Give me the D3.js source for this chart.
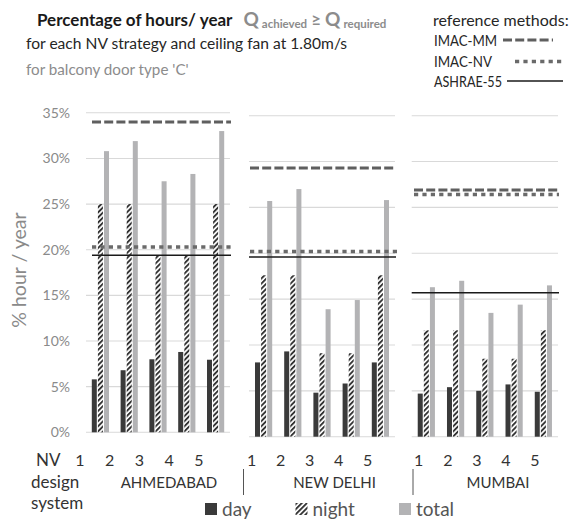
<!DOCTYPE html>
<html>
<head>
<meta charset="utf-8">
<script src="https://cdn.jsdelivr.net/npm/d3@7"></script>
<style>
  html, body { margin: 0; padding: 0; background: #fff; }
  svg { display: block; font-family: Lato, "Open Sans", sans-serif; }
</style>
</head>
<body>
<svg id="chart" width="576" height="521"></svg>
<script>
// ---- data -------------------------------------------------------------
const cities = ["AHMEDABAD", "NEW DELHI", "MUMBAI"];
const strategies = ["1", "2", "3", "4", "5"];
const seriesNames = ["day", "night", "total"];

// % of hours per year, one row per city, one value per NV design system
const dayValues = [
  [5.8, 6.8, 8.0, 8.8, 7.95],
  [8.1, 9.3, 4.8, 5.8, 8.1],
  [4.7, 5.4, 5.0, 5.7, 4.9]
];
const nightValues = [
  [25.0, 25.0, 19.4, 19.4, 25.0],
  [17.6, 17.6, 9.1, 9.1, 17.6],
  [11.6, 11.6, 8.5, 8.5, 11.6]
];
const totalValues = [
  [30.8, 31.9, 27.5, 28.3, 33.0],
  [25.7, 27.0, 13.9, 14.9, 25.8],
  [16.3, 17.0, 13.5, 14.4, 16.5]
];

// reference methods, one value per city
const imacMM = [34.0, 29.3, 26.9];
const imacNV = [20.3, 20.2, 26.4];
const ashrae55 = [19.4, 19.6, 15.7];

const yTicks = [0, 5, 10, 15, 20, 25, 30, 35];
const yTickLabels = ["0%", "5%", "10%", "15%", "20%", "25%", "30%", "35%"];

// ---- layout -----------------------------------------------------------
const panels = [
  { x0: 86,    x1: 230, yBottom: 432.3, yTop: 112.8, refX0: 92,  labelX: [80, 199],     cityX: 169 },
  { x0: 249,   x1: 395, yBottom: 436.7, yTop: 115.7, refX0: 250, labelX: [251.7, 367.7], cityX: 334.5 },
  { x0: 411.7, x1: 558, yBottom: 436.7, yTop: 115.7, refX0: 414, labelX: [418.7, 535],   cityX: 498 }
];

const colors = { day: "#3a3a3a", night: "#333333", total: "#b3b3b5", grid: "#d9d9d9" };
const refStyles = {
  mm:     { stroke: "#5f5f5f", width: 3,   dash: "9,3.2" },
  nv:     { stroke: "#6a6a6a", width: 3.6, dash: "4.2,4.2" },
  ashrae: { stroke: "#1a1a1a", width: 1.5, dash: null }
};

const svg = d3.select("#chart");
const defs = svg.append("defs");

// diagonal hatch for the night series
const hatch = defs.append("pattern")
  .attr("id", "hatch")
  .attr("patternUnits", "userSpaceOnUse")
  .attr("width", 3.6).attr("height", 3.6)
  .attr("patternTransform", "rotate(45)");
hatch.append("rect").attr("width", 3.6).attr("height", 3.6).attr("fill", "#fff");
hatch.append("rect").attr("width", 1.9).attr("height", 3.6).attr("fill", colors.night);

function fill(name) { return name === "night" ? "url(#hatch)" : colors[name]; }

const valuesBySeries = { day: dayValues, night: nightValues, total: totalValues };

panels.forEach((p, ci) => {
  const x = d3.scaleBand().domain(strategies).range([p.x0, p.x1]);
  const xInner = d3.scaleBand().domain(seriesNames).range([-8.6, 8.6]).paddingInner(0.18);
  const y = d3.scaleLinear().domain([0, 35]).range([p.yBottom, p.yTop]);

  const g = svg.append("g").attr("class", "panel");

  // gridlines
  g.selectAll("line.grid").data(yTicks).join("line")
    .attr("class", "grid")
    .attr("x1", p.x0).attr("x2", p.x1)
    .attr("y1", d => y(d)).attr("y2", d => y(d))
    .attr("stroke", colors.grid).attr("stroke-width", 1.1);

  // bars
  const rows = strategies.map((s, i) => ({
    s, items: seriesNames.map(n => ({ n, v: valuesBySeries[n][ci][i] }))
  }));
  const groups = g.selectAll("g.group").data(rows).join("g")
    .attr("class", "group")
    .attr("transform", d => `translate(${x(d.s) + x.bandwidth() / 2},0)`);
  groups.selectAll("rect").data(d => d.items).join("rect")
    .attr("x", d => xInner(d.n))
    .attr("width", xInner.bandwidth())
    .attr("y", d => y(d.v))
    .attr("height", d => y(0) - y(d.v))
    .attr("fill", d => fill(d.n));

  // reference method lines
  const refs = [
    { key: "mm", v: imacMM[ci] },
    { key: "nv", v: imacNV[ci] },
    { key: "ashrae", v: ashrae55[ci] }
  ];
  g.selectAll("line.ref").data(refs).join("line")
    .attr("class", "ref")
    .attr("x1", d => d.key === "ashrae" && ci > 0 ? p.x0 : p.refX0)
    .attr("x2", d => d.key === "nv" && ci === 1 ? p.x1 + 3 : p.x1 + 1)
    .attr("y1", d => y(d.v)).attr("y2", d => y(d.v))
    .attr("stroke", d => refStyles[d.key].stroke)
    .attr("stroke-width", d => refStyles[d.key].width)
    .attr("stroke-dasharray", d => refStyles[d.key].dash);

  // NV design system numbers and city name
  const lx = d3.scalePoint().domain(strategies).range(p.labelX);
  g.selectAll("text.num").data(strategies).join("text")
    .attr("class", "num")
    .attr("x", d => lx(d)).attr("y", 466)
    .attr("text-anchor", "middle")
    .attr("font-size", 16).attr("fill", "#333")
    .text(d => d);
  g.append("text")
    .attr("x", p.cityX).attr("y", 487.5)
    .attr("text-anchor", "middle")
    .attr("font-size", 15).attr("fill", "#333")
    .text(cities[ci]);

  // y axis on the first panel only
  if (ci === 0) {
    const axis = d3.axisLeft(y).tickValues(yTicks)
      .tickFormat((d, i) => yTickLabels[i]).tickSize(0).tickPadding(16);
    const ag = svg.append("g").attr("transform", `translate(${p.x0},0)`).call(axis);
    ag.select(".domain").remove();
    ag.selectAll("text").attr("font-size", 14).attr("fill", "#8a8a8a")
      .attr("font-family", "Lato, sans-serif");
  }
});

// separators on the category axis
svg.selectAll("line.sep").data([243.5, 413]).join("line")
  .attr("class", "sep")
  .attr("x1", d => d).attr("x2", d => d)
  .attr("y1", 469).attr("y2", 495)
  .attr("stroke", "#555").attr("stroke-width", 1);

// axis titles
svg.append("text")
  .attr("transform", "translate(26,270) rotate(-90)")
  .attr("text-anchor", "middle")
  .attr("font-size", 19.5).attr("fill", "#8a8a8a")
  .text("% hour / year");

svg.append("text").attr("x", 36).attr("y", 466).attr("font-size", 17).attr("fill", "#333").text("NV");
svg.append("text").attr("x", 31).attr("y", 488).attr("font-size", 17).attr("fill", "#333").text("design");
svg.append("text").attr("x", 31).attr("y", 509).attr("font-size", 17).attr("fill", "#333").text("system");

// title block
const t1 = svg.append("text").attr("x", 37).attr("y", 26).attr("font-weight", 700);
t1.append("tspan").attr("font-size", 17).attr("fill", "#1a1a1a").text("Percentage of hours/ year");
t1.append("tspan").attr("dx", 11).attr("font-size", 19).attr("fill", "#8c8c8c").text("Q");
t1.append("tspan").attr("dx", 3).attr("dy", 2).attr("font-size", 11.5).attr("fill", "#8c8c8c").text("achieved");
t1.append("tspan").attr("dx", 4).attr("dy", -2).attr("font-size", 17).attr("fill", "#8c8c8c").text("≥");
t1.append("tspan").attr("dx", 4).attr("font-size", 19).attr("fill", "#8c8c8c").text("Q");
t1.append("tspan").attr("dx", 3).attr("dy", 2).attr("font-size", 11.5).attr("fill", "#8c8c8c").text("required");

svg.append("text").attr("x", 26).attr("y", 49).attr("font-size", 15.6).attr("fill", "#262626")
  .text("for each NV strategy and ceiling fan at 1.80m/s");
svg.append("text").attr("x", 26).attr("y", 75).attr("font-size", 15.2).attr("fill", "#8c8c8c")
  .text("for balcony door type 'C'");

// reference methods legend
const refLegend = [
  { key: "mm", label: "IMAC-MM", y: 40, w: 63, sx: [503, 553] },
  { key: "nv", label: "IMAC-NV", y: 61.5, w: 58, sx: [515, 563] },
  { key: "ashrae", label: "ASHRAE-55", y: 81, w: 68, sx: [507, 563] }
];
svg.append("text").attr("x", 433).attr("y", 26).attr("font-size", 16).attr("fill", "#262626")
  .text("reference methods:");
const rl = svg.selectAll("g.refleg").data(refLegend).join("g").attr("class", "refleg");
rl.append("text").attr("x", 434).attr("y", d => d.y + 5.5).attr("font-size", 14.5).attr("fill", "#262626")
  .attr("textLength", d => d.w).attr("lengthAdjust", "spacingAndGlyphs")
  .text(d => d.label);
rl.append("line")
  .attr("x1", d => d.sx[0]).attr("x2", d => d.sx[1])
  .attr("y1", d => d.y).attr("y2", d => d.y)
  .attr("stroke", d => refStyles[d.key].stroke)
  .attr("stroke-width", d => refStyles[d.key].width)
  .attr("stroke-dasharray", d => refStyles[d.key].dash);

// series legend
const legendItems = [
  { n: "day", x: 205 },
  { n: "night", x: 295.5 },
  { n: "total", x: 399 }
];
const lg = svg.selectAll("g.leg").data(legendItems).join("g").attr("class", "leg")
  .attr("transform", d => `translate(${d.x},503)`);
lg.append("rect").attr("width", 12).attr("height", 12).attr("fill", d => fill(d.n));
lg.append("text").attr("x", 17).attr("y", 13).attr("font-size", 19).attr("fill", "#555")
  .text(d => d.n);
</script>
</body>
</html>
